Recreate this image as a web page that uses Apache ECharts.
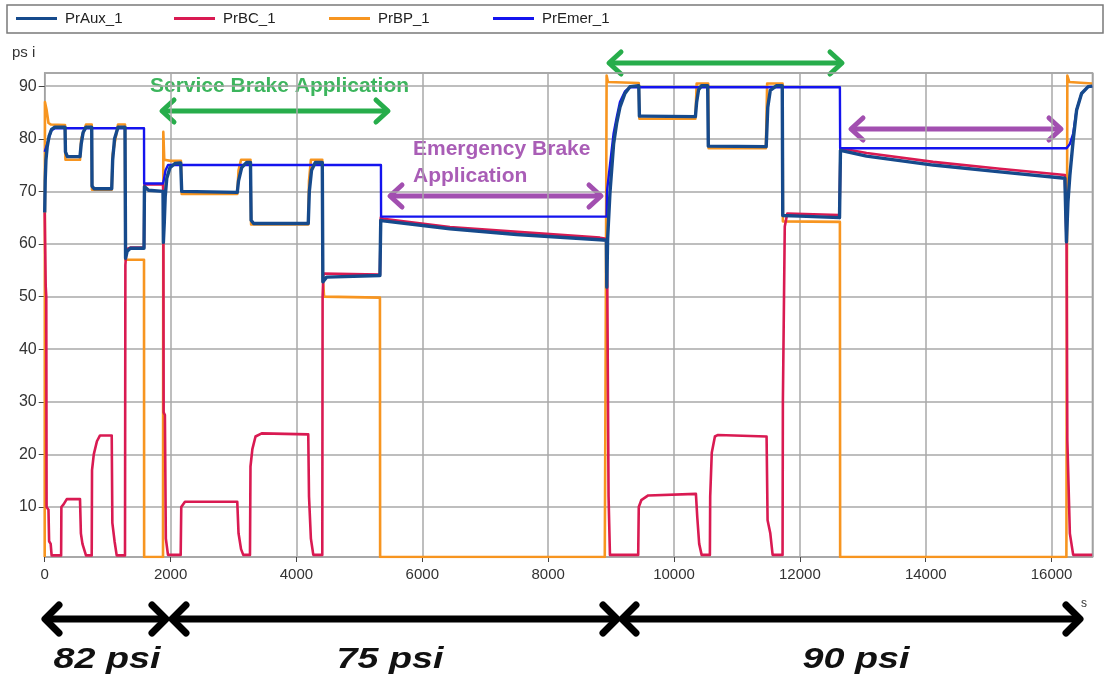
<!DOCTYPE html>
<html><head><meta charset="utf-8">
<script src="https://cdn.jsdelivr.net/npm/echarts@6/dist/echarts.min.js"></script>
<style>html,body{margin:0;padding:0;background:#fff}#c{width:1109px;height:678px}</style>
</head><body><div id="c"></div>
<script>
// ---- data (time s, pressure psi) ----
const seriesNames = ['PrAux_1', 'PrBC_1', 'PrBP_1', 'PrEmer_1'];
const xTickStep = 2000;
const yTickLabels = [10, 20, 30, 40, 50, 60, 70, 80, 90];

const prAux = [
 [0,66],[8,72],[20,76],[40,78.5],[70,80.5],[110,81.8],[160,82.2],[323,82.2],[330,77.5],[360,76.6],[561,76.6],[580,79],[610,81.2],[656,82.2],[747,82.2],[752,71],[785,70.5],[1065,70.5],[1080,76],[1110,80],[1165,82.2],[1276,82.2],[1285,57.3],[1310,58.6],[1360,59.2],[1578,59.2],[1585,70.9],[1650,70.2],[1880,70],[1886,60.3],[1900,64],[1915,69],[1940,72.5],[1990,74.5],[2070,75.3],[2161,75.4],[2177,70],[2200,69.7],[3060,69.8],[3080,72],[3130,74.5],[3209,75.5],[3270,75.5],[3280,64.5],[3320,63.9],[4188,63.9],[4205,70],[4240,74],[4300,75.5],[4411,75.5],[4420,52.8],[4480,53.7],[5327,54],[5340,64.5],[5380,64.4],[6439,62.9],[7500,61.8],[8822,60.8],[8925,60.7],[8932,51.8],[8945,61],[8982,69.7],[9040,79],[9088,82.9],[9141,86],[9220,88.6],[9300,89.9],[9440,90.1],[9450,84.3],[9500,84.3],[10340,84.2],[10360,87],[10390,89.3],[10439,90.1],[10535,90.1],[10545,78.6],[11465,78.5],[11490,86],[11530,89.2],[11630,90.1],[11720,90.1],[11728,65.4],[12000,65.3],[12630,65],[12645,77.8],[13060,76.7],[14118,75],[15178,73.7],[16211,72.5],[16236,60.4],[16260,68],[16290,73],[16343,79.7],[16397,85.4],[16476,88.6],[16581,89.9],[16645,90]
];
const prBC = [
 [0,66],[10,66],[16,52],[25,50],[30,10],[60,9.5],[70,3.5],[95,3],[110,0.8],[261,0.8],[265,10],[300,10.5],[351,11.5],[561,11.5],[575,5],[600,3],[656,0.8],[747,0.8],[752,17],[780,20],[830,22.5],[879,23.6],[1065,23.6],[1075,7],[1110,3.5],[1144,0.8],[1276,0.8],[1282,56],[1300,59],[1360,59.3],[1578,59.3],[1585,71.3],[1880,71.3],[1885,69],[1890,28],[1910,27.5],[1925,4],[1959,0.9],[2161,0.9],[2170,10],[2229,11],[3060,11],[3080,5],[3120,2],[3155,0.9],[3262,0.9],[3270,17.7],[3300,21],[3350,23.4],[3448,24],[4188,23.8],[4200,12],[4230,4],[4268,0.9],[4411,0.9],[4416,50],[4430,54.4],[5327,54.2],[5340,65],[5380,64.8],[6439,63.2],[8822,61.2],[8925,61],[8940,52],[8960,12],[8982,0.9],[9431,0.9],[9440,10],[9480,11.3],[9590,12.2],[10348,12.5],[10370,8],[10400,3],[10439,0.9],[10570,0.9],[10575,12],[10600,20.3],[10650,23.4],[10700,23.7],[11471,23.4],[11487,7.5],[11530,5],[11567,0.9],[11725,0.9],[11730,30],[11760,63.3],[11800,65.8],[12630,65.5],[12645,78.2],[13060,77.3],[14118,75.6],[15178,74.3],[16211,73.1],[16238,60],[16250,22.7],[16290,5],[16343,0.9],[16645,0.9]
];
const prBP = [
 [0,0.5],[2,0.5],[4,87],[30,85.5],[60,83],[100,82.7],[323,82.6],[330,76],[561,76],[580,80],[656,82.7],[747,82.7],[752,70.3],[1065,70.3],[1080,77],[1165,82.7],[1276,82.7],[1282,57],[1578,57],[1580,0.5],[1880,0.5],[1885,81.3],[1900,76],[2000,75.8],[2165,75.8],[2177,69.5],[3060,69.5],[3080,74],[3120,76],[3270,76],[3280,63.7],[4188,63.7],[4200,72],[4230,76],[4411,76],[4416,54],[4440,50],[5327,49.8],[5330,0.5],[8900,0.5],[8915,42],[8929,92],[8950,90.8],[9440,90.6],[9450,83.8],[10340,83.8],[10360,90.5],[10543,90.5],[10550,78.2],[11460,78.2],[11480,90.5],[11725,90.5],[11730,64.3],[12636,64.2],[12640,0.5],[16235,0.5],[16250,92],[16280,90.8],[16645,90.5]
];
const prEmer = [
 [0,77.5],[40,79],[100,81.5],[160,82],[1578,82],[1580,71.5],[1880,71.5],[1890,72],[1920,74],[1960,75],[5343,75],[5345,65.2],[8929,65.2],[8935,70],[8982,75],[9040,81],[9088,84],[9141,87],[9220,89],[9300,89.8],[12636,89.8],[12640,78.2],[16238,78.2],[16290,79],[16343,81],[16397,85.5],[16476,88.6],[16581,89.9],[16645,90]
];

// ---- styles ----
const colors = {PrAux_1:'#164a8c', PrBC_1:'#d91a52', PrBP_1:'#f79520', PrEmer_1:'#1414ee'};
const widths = {PrAux_1:3.4, PrBC_1:2.6, PrBP_1:2.6, PrEmer_1:2.4};
const dataMap = {PrAux_1:prAux, PrBC_1:prBC, PrBP_1:prBP, PrEmer_1:prEmer};
const drawOrder = ['PrBP_1','PrBC_1','PrEmer_1','PrAux_1'];
const legendLeft = [16, 174, 329, 493];
const FONT = '"Liberation Sans", Arial, sans-serif';

const chart = echarts.init(document.getElementById('c'), null, {renderer:'canvas'});

function arrow(x1, x2, y, color, lw, h, v) {
  const common = {stroke: color, lineWidth: lw, lineCap: 'round', lineJoin: 'round', fill: null};
  return {
    type: 'group', silent: true, children: [
      {type:'line', shape:{x1:x1+2, y1:y, x2:x2-2, y2:y}, style: common},
      {type:'polyline', shape:{points:[[x1+h, y-v],[x1, y],[x1+h, y+v]]}, style: common},
      {type:'polyline', shape:{points:[[x2-h, y-v],[x2, y],[x2-h, y+v]]}, style: common}
    ]
  };
}
const GREEN = '#27ad4b', PURPLE = '#a24fb0';

const option = {
  animation: false,
  backgroundColor: '#fff',
  grid: {left: 44.7, right: 16.5, top: 73, bottom: 121, show: true, borderColor: '#8c8c8c', borderWidth: 1.5, backgroundColor: 'transparent'},
  legend: seriesNames.map((n, i) => ({
    data: [n], left: legendLeft[i], top: 11, padding: 0,
    icon: 'rect', itemWidth: 41, itemHeight: 3,
    textStyle: {fontFamily: FONT, fontSize: 15, color: '#222', padding: [0,0,0,3]},
    selectedMode: false
  })),
  xAxis: {
    type: 'value', min: 0, max: 16650, interval: xTickStep,
    axisLine: {show: false},
    axisTick: {show: true, length: 5, lineStyle: {color: '#444', width: 1}},
    axisLabel: {fontFamily: FONT, fontSize: 15, color: '#333', margin: 10, showMaxLabel: false,
      formatter: v => String(Math.round(v))},
    splitLine: {show: true, lineStyle: {color: '#a9a9a9', width: 1.5}}
  },
  yAxis: {
    type: 'value', min: 0.5, max: 92.5, splitNumber: 9,
    axisLine: {show: false},
    axisTick: {show: true, length: 6, lineStyle: {color: '#444', width: 1}},
    axisLabel: {fontFamily: FONT, fontSize: 16, color: '#333', margin: 8, showMinLabel: false, showMaxLabel: false,
      formatter: v => (yTickLabels.indexOf(Math.round(v)) >= 0 && Math.abs(v - Math.round(v)) < 1e-6) ? String(Math.round(v)) : ''},
    splitLine: {show: true, lineStyle: {color: '#a9a9a9', width: 1.5}}
  },
  series: drawOrder.map(n => ({
    name: n, type: 'line', data: dataMap[n], showSymbol: false, symbol: 'none',
    color: colors[n], lineStyle: {color: colors[n], width: widths[n], join: 'round'},
    silent: true
  })),
  graphic: [
    {type:'rect', silent:true, shape:{x:7, y:5, width:1096, height:28}, style:{fill:'none', stroke:'#7a7a7a', lineWidth:1.5}},
    {type:'text', silent:true, style:{text:'ps i', x:12, y:53, verticalAlign:'middle', font:'15px ' + FONT, fill:'#333'}},
    {type:'text', silent:true, style:{text:'s', x:1081, y:604, verticalAlign:'middle', font:'12px ' + FONT, fill:'#333'}},
    {type:'text', silent:true, style:{text:'Service Brake Application', x:150, y:86, verticalAlign:'middle', font:'bold 21px ' + FONT, fill:GREEN, opacity:0.9}},
    {type:'text', silent:true, style:{text:'Emergency Brake\nApplication', x:413, y:163, verticalAlign:'middle', lineHeight:27, font:'bold 21px ' + FONT, fill:PURPLE, opacity:0.92}},
    arrow(162, 388, 111, GREEN, 5, 12, 11),
    arrow(390, 601, 196, PURPLE, 5, 12, 11),
    arrow(609, 842, 63, GREEN, 5, 12, 11),
    arrow(851, 1061, 129, PURPLE, 5, 12, 11),
    arrow(45, 166, 619, '#000', 7, 14, 14),
    arrow(172, 617, 619, '#000', 7, 14, 14),
    arrow(622, 1080, 619, '#000', 7, 14, 14),
    {type:'text', silent:true, x:107, y:660, scaleX:1.3, style:{text:'82 psi', x:0, y:0, align:'center', verticalAlign:'middle', font:'italic bold 29px ' + FONT, fill:'#111'}},
    {type:'text', silent:true, x:390, y:660, scaleX:1.3, style:{text:'75 psi', x:0, y:0, align:'center', verticalAlign:'middle', font:'italic bold 29px ' + FONT, fill:'#111'}},
    {type:'text', silent:true, x:856, y:660, scaleX:1.3, style:{text:'90 psi', x:0, y:0, align:'center', verticalAlign:'middle', font:'italic bold 29px ' + FONT, fill:'#111'}}
  ]
};
chart.setOption(option);
</script>
</body></html>
